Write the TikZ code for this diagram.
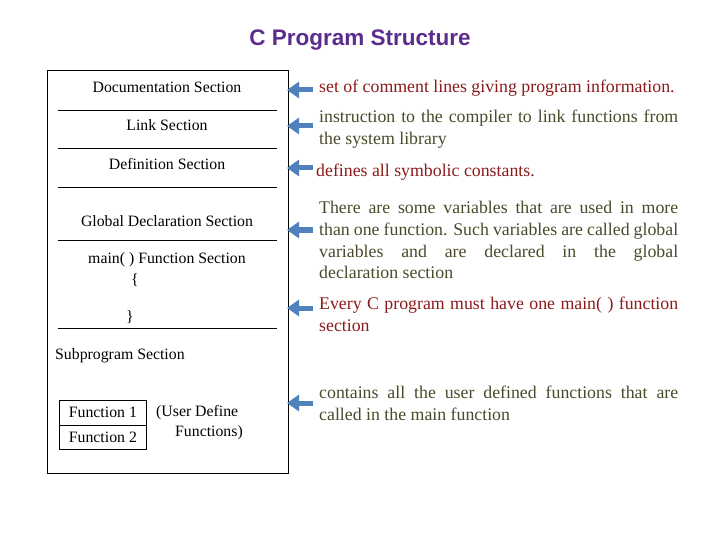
\documentclass[tikz,border=0pt]{standalone}
\usepackage{fontspec}
\setmainfont{Liberation Serif}
\newfontfamily\titlefont{Liberation Sans}
\usetikzlibrary{arrows.meta}
\definecolor{dred}{HTML}{8B1A1A}
\definecolor{olive}{HTML}{4A4A2A}
\definecolor{ablue}{HTML}{4F81BD}
\definecolor{tpurple}{HTML}{5B2C8C}
\begin{document}
\begin{tikzpicture}[x=1pt,y=-1pt,
  lt/.style={font=\fontsize{15.8}{17}\selectfont,inner sep=0pt},
  rt/.style={font=\fontsize{17.8}{21.8}\selectfont,inner sep=0pt,anchor=north west,text width=359pt,align=justify},
  arr/.style={-{Triangle[length=12pt,width=16pt]},line width=5pt,ablue},
  fbox/.style={draw,lt,minimum width=87pt,minimum height=24.5pt,anchor=north west,line width=0.8pt}]
\useasboundingbox (0,0) rectangle (720,540);
\node[font=\titlefont\bfseries\fontsize{22.5}{26}\selectfont,text=tpurple] (title) at (360,40) {C Program Structure};
\node[draw,line width=0.8pt,minimum width=241pt,minimum height=403pt,anchor=north west,inner sep=0pt] (outer) at (47,70) {};
\foreach \y in {110,148,187,240,328} \draw[line width=0.8pt] (58,\y) -- (277,\y);
\node[lt] (d1) at (167,87) {Documentation Section};
\node[lt] (d2) at (167,125) {Link Section};
\node[lt] (d3) at (167,164) {Definition Section};
\node[lt] (d4) at (167,221) {Global Declaration Section};
\node[lt] (d5) at (167,260) {main( ) Function Section};
\node[lt] (ob) at (135,280) {\{};
\node[lt] (cb) at (130,317) {\}};
\node[lt,anchor=west] (sp) at (55,356) {Subprogram Section};
\node[fbox] (f1) at (59,400) {Function 1};
\node[fbox] (f2) at (59,424.5) {Function 2};
\node[lt,anchor=west] (u1) at (156,413) {(User Define};
\node[lt,anchor=west] (u2) at (175,433) {Functions)};
\node[rt,text=dred] (r1) at (319,80) {set of comment lines giving program information.};
\node[rt,text=olive] (r2) at (319,110) {instruction to the compiler to link functions from\linebreak the system library};
\node[rt,text=dred,text width=362pt] (r3) at (316,164) {defines all symbolic constants.};
\node[rt,text=olive] (r4) at (319,201) {There are some variables that are used in more\linebreak than one function. Such variables are called global\linebreak variables and are declared in the global\linebreak declaration section};
\node[rt,text=dred] (r5) at (319,297) {Every C program must have one main( ) function\linebreak section};
\node[rt,text=olive] (r6) at (319,386) {contains all the user defined functions that are\linebreak called in the main function};
\foreach \y/\n in {90/a1,126/a2,168/a3,230/a4,308/a5,403/a6}{
  \coordinate (\n s) at (313,\y); \coordinate (\n e) at (287,\y);
  \draw[arr] (\n s) -- (\n e);}
\end{tikzpicture}
\end{document}
